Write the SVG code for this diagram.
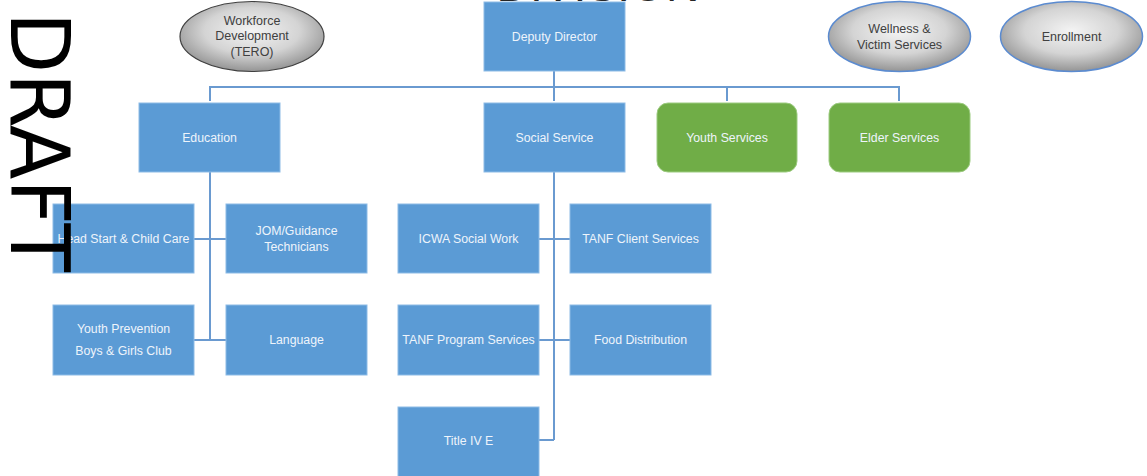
<svg xmlns="http://www.w3.org/2000/svg" width="1147" height="476" viewBox="0 0 1147 476">
<defs>
<radialGradient id="gray" cx="50%" cy="42%" r="60%">
<stop offset="0" stop-color="#f4f4f4"/>
<stop offset="0.55" stop-color="#d4d4d4"/>
<stop offset="1" stop-color="#8f8f8f"/>
</radialGradient>
<style>
.box{fill:#5b9bd5;stroke:#8dbbe6;stroke-width:1}
.green{fill:#70ad47;stroke:#9ccb80;stroke-width:1}
.bt{font-family:"Liberation Sans",Arial,sans-serif;font-size:12.3px;fill:#eef4fb;text-anchor:middle;dominant-baseline:central}
.et{font-family:"Liberation Sans",Arial,sans-serif;font-size:12.5px;fill:#404040;text-anchor:middle;dominant-baseline:central}
.conn{fill:none;stroke:#6a9ad0;stroke-width:2}
</style>
</defs>
<rect width="1147" height="476" fill="#ffffff"/>
<text x="598" y="1" font-family="Liberation Sans,Arial,sans-serif" font-size="46" fill="#262626" text-anchor="middle" textLength="203" lengthAdjust="spacingAndGlyphs">DIVISION</text>
<g id="connectors">
<path class="conn" d="M554 71V101M210 101V87H899V101M727 87V101"/>
<path class="conn" d="M210 172V340M194 239H226M194 340H226"/>
<path class="conn" d="M554 172V440M539 239H570M539 340H570M539 440H554"/>
</g>
<g id="workforce">
<ellipse cx="252" cy="36.5" rx="72" ry="35" fill="url(#gray)" stroke="#404040" stroke-width="1.2"/>
<text class="et" x="252" y="20.5">Workforce</text>
<text class="et" x="252" y="36">Development</text>
<text class="et" x="252" y="52">(TERO)</text>
</g>
<g id="wellness">
<ellipse cx="899.5" cy="36.5" rx="71" ry="35" fill="url(#gray)" stroke="#5b8bd0" stroke-width="1.5"/>
<text class="et" x="899.5" y="28.5">Wellness &amp;</text>
<text class="et" x="899.5" y="45">Victim Services</text>
</g>
<g id="enrollment">
<ellipse cx="1071.5" cy="36.5" rx="71" ry="35" fill="url(#gray)" stroke="#5b8bd0" stroke-width="1.5"/>
<text class="et" x="1071.5" y="36.5">Enrollment</text>
</g>
<g id="deputy">
<rect class="box" x="484" y="2" width="141" height="69"/>
<text class="bt" x="554.5" y="37">Deputy Director</text>
</g>
<g id="education">
<rect class="box" x="139" y="103" width="141" height="69"/>
<text class="bt" x="209.5" y="137.5">Education</text>
</g>
<g id="social">
<rect class="box" x="484" y="103" width="141" height="69"/>
<text class="bt" x="554.5" y="137.5">Social Service</text>
</g>
<g id="youth-services">
<rect class="green" x="657" y="103" width="140" height="69" rx="11"/>
<text class="bt" x="727" y="137.5">Youth Services</text>
</g>
<g id="elder-services">
<rect class="green" x="829" y="103" width="141" height="69" rx="11"/>
<text class="bt" x="899.5" y="137.5">Elder Services</text>
</g>
<g id="headstart">
<rect class="box" x="53" y="204" width="141" height="69"/>
<text class="bt" x="123.5" y="239">Head Start &amp; Child Care</text>
</g>
<g id="jom">
<rect class="box" x="226" y="204" width="141" height="69"/>
<text class="bt" x="296.5" y="231">JOM/Guidance</text>
<text class="bt" x="296.5" y="246.5">Technicians</text>
</g>
<g id="youth-prevention">
<rect class="box" x="53" y="305" width="141" height="70"/>
<text class="bt" x="123.5" y="329">Youth Prevention</text>
<text class="bt" x="123.5" y="351">Boys &amp; Girls Club</text>
</g>
<g id="language">
<rect class="box" x="226" y="305" width="141" height="70"/>
<text class="bt" x="296.5" y="340">Language</text>
</g>
<g id="icwa">
<rect class="box" x="398" y="204" width="141" height="69"/>
<text class="bt" x="468.5" y="239">ICWA Social Work</text>
</g>
<g id="tanf-client">
<rect class="box" x="570" y="204" width="141" height="69"/>
<text class="bt" x="640.5" y="239">TANF Client Services</text>
</g>
<g id="tanf-program">
<rect class="box" x="398" y="305" width="141" height="70"/>
<text class="bt" x="468.5" y="340">TANF Program Services</text>
</g>
<g id="food">
<rect class="box" x="570" y="305" width="141" height="70"/>
<text class="bt" x="640.5" y="340">Food Distribution</text>
</g>
<g id="title-iv-e">
<rect class="box" x="398" y="407" width="141" height="70"/>
<text class="bt" x="468.5" y="441">Title IV E</text>
</g>
<text transform="translate(11,12) rotate(90)" x="0" y="0" font-family="DejaVu Sans,Liberation Sans,sans-serif" font-size="82" fill="#000000" textLength="260" lengthAdjust="spacingAndGlyphs">DRAFT</text>
</svg>
